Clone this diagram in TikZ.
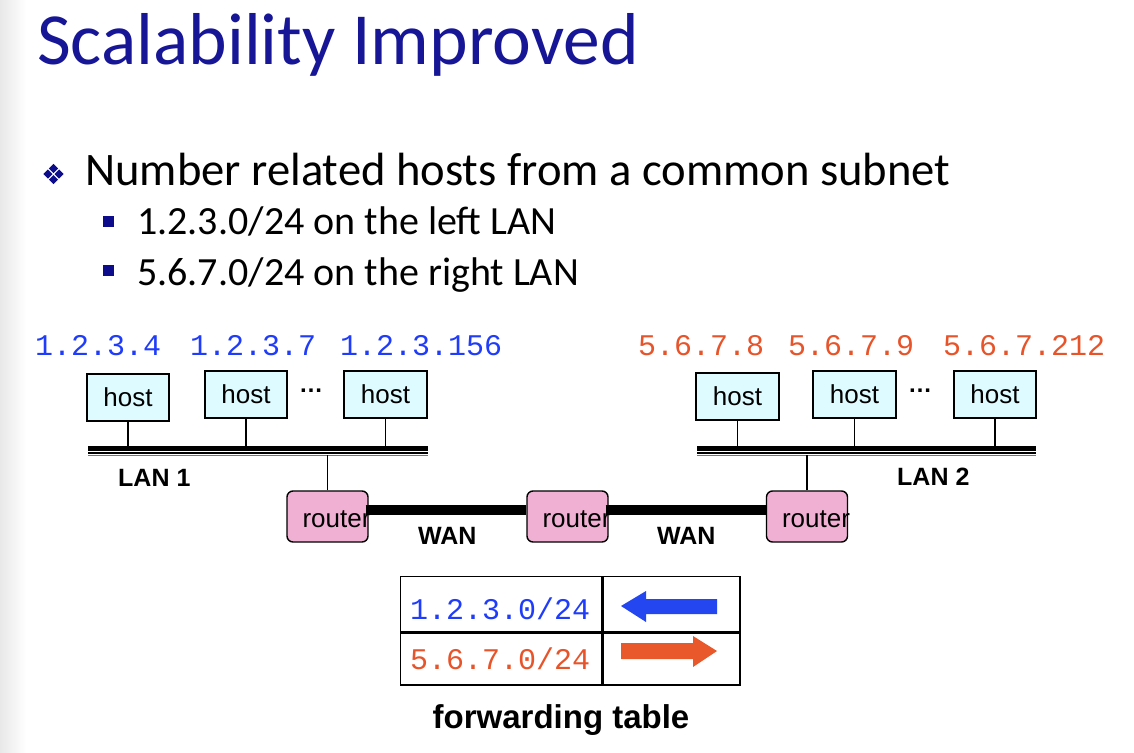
\documentclass[tikz,border=0pt]{standalone}
\usepackage{fontspec}
\setmainfont{Carlito}
\newfontfamily\arialfont{Liberation Sans}
\newfontfamily\couriermono{Liberation Mono}
\usetikzlibrary{calc}

\definecolor{titleblue}{RGB}{22,22,150}
\definecolor{bulletblue}{RGB}{12,12,140}
\definecolor{ipblue}{RGB}{30,60,250}
\definecolor{ipred}{RGB}{232,84,42}
\definecolor{hostfill}{RGB}{222,252,255}
\definecolor{routerfill}{RGB}{240,176,212}
\definecolor{arrowblue}{RGB}{35,70,240}
\definecolor{arrowred}{RGB}{232,88,42}

\begin{document}
\begin{tikzpicture}[x=1pt,y=-1pt,
  hostbox/.style={draw=black, line width=1.4pt, fill=hostfill,
    minimum width=82pt, minimum height=47pt, inner sep=0pt,
    font=\arialfont\fontsize{26}{26}\selectfont},
  routerbox/.style={draw=black, line width=1.4pt, fill=routerfill,
    rounded corners=6pt, minimum width=81pt, minimum height=51pt, inner sep=0pt},
  routertext/.style={inner sep=0pt, anchor=base west,
    font=\arialfont\fontsize{26}{26}\selectfont},
  stub/.style={draw=black, line width=1.4pt},
  wanline/.style={draw=black, line width=10pt},
  netlabel/.style={inner sep=0pt, anchor=base west,
    font=\arialfont\bfseries\fontsize{25}{25}\selectfont},
  iplabel/.style={inner sep=0pt, anchor=base west,
    font=\couriermono\fontsize{30}{30}\selectfont},
  dotsep/.style={inner sep=0pt, font=\arialfont\bfseries\fontsize{24}{24}\selectfont},
  cell/.style={draw=black, line width=1.4pt, anchor=north west, inner sep=0pt},
  slidetext/.style={inner sep=0pt, anchor=base west},
]
% page and left edge shading
\useasboundingbox (0,0) rectangle (1134,752);
\fill[white] (0,0) rectangle (1134,752);
\shade[left color=black!9, right color=white] (0,0) rectangle (26,752);

% title and bullet list
\node[slidetext, text=titleblue, font=\fontsize{73.5}{73.5}\selectfont] (title) at (37,64) {Scalability Improved};
\foreach \dx/\dy in {0/-5.6, 0/5.6, -5.6/0, 5.6/0}
  \fill[bulletblue] ($(53.5,174)+(\dx,\dy)$) +(0,-4.6) -- +(4.6,0) -- +(0,4.6) -- +(-4.6,0) -- cycle;
\node[slidetext, font=\fontsize{46.6}{46.6}\selectfont] (b1) at (85,185) {Number related hosts from a common subnet};
\fill[bulletblue] (103,215.5) rectangle (114,226.5);
\node[slidetext, font=\fontsize{40}{40}\selectfont] (b2) at (137,234) {1.2.3.0/24 on the left LAN};
\fill[bulletblue] (103,265) rectangle (114,276);
\node[slidetext, font=\fontsize{40}{40}\selectfont] (b3) at (137,285) {5.6.7.0/24 on the right LAN};

% host addresses
\node[iplabel, text=ipblue] (ip1) at (35,355) {1.2.3.4};
\node[iplabel, text=ipblue] (ip2) at (190,355) {1.2.3.7};
\node[iplabel, text=ipblue] (ip3) at (340,355) {1.2.3.156};
\node[iplabel, text=ipred] (ip4) at (638,355) {5.6.7.8};
\node[iplabel, text=ipred] (ip5) at (788,355) {5.6.7.9};
\node[iplabel, text=ipred] (ip6) at (943,355) {5.6.7.212};

% hosts
\node[hostbox] (h1) at (128,397.5) {host};
\node[hostbox] (h2) at (246,394.5) {host};
\node[dotsep] (d1) at (311,391) {…};
\node[hostbox, minimum width=83pt] (h3) at (385.5,394.5) {host};
\node[hostbox, minimum width=83pt] (h4) at (737.5,396.5) {host};
\node[hostbox, minimum width=83pt] (h5) at (854.5,394.5) {host};
\node[dotsep] (d2) at (920,391) {…};
\node[hostbox] (h6) at (995,394.5) {host};

% LAN segments
\coordinate (lan1w) at (88,448.3);
\coordinate (lan1e) at (428,448.3);
\coordinate (lan2w) at (697,448.3);
\coordinate (lan2e) at (1036,448.3);
\foreach \a/\b in {lan1w/lan1e, lan2w/lan2e} {
  \draw[line width=4.7pt] (\a) -- (\b);
  \draw[line width=2pt] ($(\a)+(0,4.7)$) -- ($(\b)+(0,4.7)$);
  \draw[line width=1.3pt, black!55] ($(\a)+(0,7)$) -- ($(\b)+(0,7)$);
}
\foreach \h/\l in {h1/lan1w, h2/lan1w, h3/lan1w, h4/lan2w, h5/lan2w, h6/lan2w}
  \draw[stub] (\h.south) -- (\h.south |- \l);

\node[netlabel] (lan1) at (118,486) {LAN 1};
\node[netlabel] (lan2) at (897,485) {LAN 2};

% routers
\node[routerbox] (r1) at (327.5,516.5) {};
\node[routerbox] (r2) at (567.5,516.5) {};
\node[routerbox] (r3) at (807,516.5) {};
\foreach \r in {r1,r2,r3}
  \node[routertext] (\r t) at ($(\r.west)+(16,10.5)$) {router};
\draw[stub, line width=1.2pt] (r1.north) -- ($(r1.north |- lan1w)+(0,7)$);
\draw[stub, line width=1.2pt] (r3.north) -- ($(r3.north |- lan2w)+(0,7)$);

% WAN links
\draw[wanline] ($(r1.east)+(-3,-6.5)$) -- ($(r2.west)+(0,-6.5)$);
\draw[wanline] ($(r2.east)+(-3,-6.5)$) -- ($(r3.west)+(0,-6.5)$);
\node[netlabel] (wan1) at (418,544) {WAN};
\node[netlabel] (wan2) at (657,544) {WAN};

% forwarding table
\node[cell, minimum width=201pt, minimum height=55pt] (c11) at (400,576) {};
\node[cell, minimum width=137pt, minimum height=55pt] (c12) at (c11.north east) {};
\node[cell, minimum width=201pt, minimum height=52pt] (c21) at (c11.south west) {};
\node[cell, minimum width=137pt, minimum height=52pt] (c22) at (c21.north east) {};
\node[iplabel, text=ipblue] (p1) at (410,619) {1.2.3.0/24};
\node[iplabel, text=ipred] (p2) at (410,669) {5.6.7.0/24};
\fill[arrowblue] (621,606) -- (646,591) -- (646,599) -- (717,599) -- (717,614) -- (646,614) -- (646,622) -- cycle;
\fill[arrowred] (717,651) -- (693,636) -- (693,643) -- (621,643) -- (621,659) -- (693,659) -- (693,667) -- cycle;
\node[inner sep=0pt, anchor=base, font=\arialfont\bfseries\fontsize{33}{33}\selectfont] (ft) at (561,728) {forwarding table};
\end{tikzpicture}
\end{document}
